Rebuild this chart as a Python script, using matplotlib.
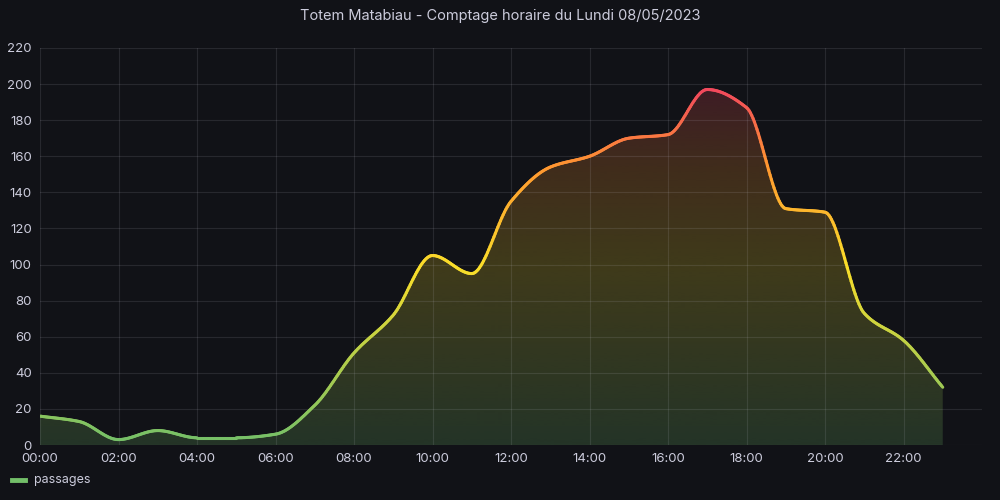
import numpy as np
import matplotlib.pyplot as plt
from matplotlib.collections import LineCollection
from matplotlib.colors import LinearSegmentedColormap, Normalize
from matplotlib.lines import Line2D

plt.rcParams['font.family'] = ['Inter', 'DejaVu Sans']

# Hourly counts
hours = np.arange(24)
passages = [16, 13, 3, 8, 4, 4, 6, 22, 51, 72, 105, 95, 135, 154, 160, 170,
            172, 197, 187, 131, 129, 73, 58, 32]
tick_hours = list(range(0, 24, 2))
tick_labels = [f"{h:02d}:00" for h in tick_hours]
title = "Totem Matabiau - Comptage horaire du Lundi 08/05/2023"

bg = '#111217'
text_col = '#ccccdc'
cmap = LinearSegmentedColormap.from_list(
    'gyr', [(0.0, '#73BF69'), (0.5, '#FADE2A'), (0.78, '#FF9830'), (1.0, '#F2495C')])
norm = Normalize(0, 197)


def monotone_smooth(x, y, n=30):
    # monotone cubic hermite, just for drawing the smooth line
    x = np.asarray(x, float)
    y = np.asarray(y, float)
    h = np.diff(x)
    d = np.diff(y) / h
    m = np.zeros_like(y)
    m[0], m[-1] = d[0], d[-1]
    for i in range(1, len(y) - 1):
        if d[i - 1] * d[i] <= 0:
            m[i] = 0
        else:
            m[i] = 2 / (1 / d[i - 1] + 1 / d[i])
    xs, ys = [], []
    for i in range(len(x) - 1):
        t = np.linspace(0, 1, n, endpoint=False)
        h00 = 2 * t**3 - 3 * t**2 + 1
        h10 = t**3 - 2 * t**2 + t
        h01 = -2 * t**3 + 3 * t**2
        h11 = t**3 - t**2
        xs.append(x[i] + t * h[i])
        ys.append(h00 * y[i] + h10 * h[i] * m[i] + h01 * y[i + 1] + h11 * h[i] * m[i + 1])
    xs.append([x[-1]])
    ys.append([y[-1]])
    return np.concatenate(xs), np.concatenate(ys)


xs, ys = monotone_smooth(hours, passages)

fig = plt.figure(figsize=(10, 5), dpi=100, facecolor=bg)
ax = fig.add_axes([0.04, 0.11, 0.942, 0.794], facecolor=bg)

# gradient fill under the curve
grad = np.linspace(0, 220, 400).reshape(-1, 1)
rgba = cmap(norm(grad))
rgba[..., 3] = 0.2
im = ax.imshow(rgba, extent=[0, 23, 0, 220], origin='lower', aspect='auto', zorder=1)
poly = ax.fill_between(xs, 0, ys, color='none', lw=0)
im.set_clip_path(poly.get_paths()[0], transform=ax.transData)

# line coloured by value
pts = np.column_stack([xs, ys]).reshape(-1, 1, 2)
segs = np.concatenate([pts[:-1], pts[1:]], axis=1)
lc = LineCollection(segs, cmap=cmap, norm=norm, linewidth=2.2, capstyle='round', zorder=3)
lc.set_array((ys[:-1] + ys[1:]) / 2)
ax.add_collection(lc)

ax.set_xlim(0, 24)
ax.set_ylim(0, 220)
ax.set_xticks(tick_hours)
ax.set_xticklabels(tick_labels)
ax.set_yticks(range(0, 221, 20))
ax.grid(True, color='#ccccdc', alpha=0.12, lw=0.8)
for s in ax.spines.values():
    s.set_visible(False)
ax.tick_params(colors=text_col, labelsize=9.5, length=0, pad=6)
for lab in ax.get_xticklabels() + ax.get_yticklabels():
    lab.set_color(text_col)

fig.text(0.5, 0.968, title, ha='center', va='center', color=text_col, fontsize=10.5)

# legend
fig.add_artist(Line2D([0.012, 0.025], [0.04, 0.04], color='#73BF69', lw=3.5))
fig.text(0.034, 0.041, 'passages', color=text_col, fontsize=9, va='center')

fig.savefig('out.png', dpi=100, facecolor=bg)
